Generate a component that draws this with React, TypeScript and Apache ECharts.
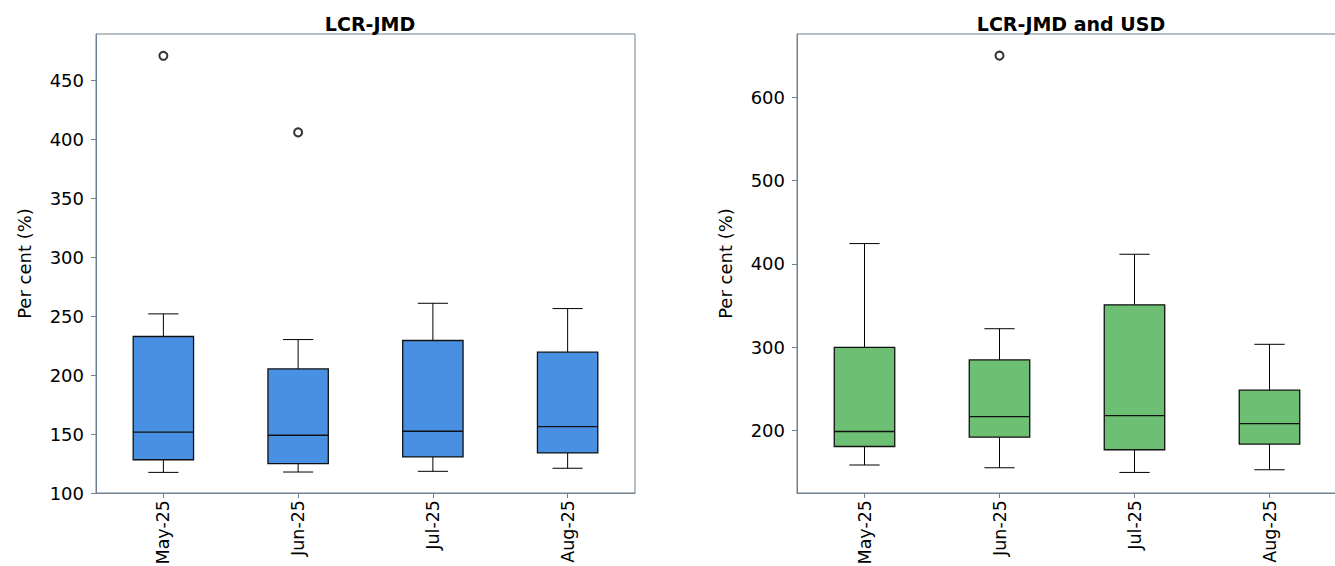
import React, { useEffect, useRef } from "react";
import * as echarts from "echarts";

const categories = ["May-25", "Jun-25", "Jul-25", "Aug-25"];

// [low whisker, Q1, median, Q3, high whisker]
const jmdBoxes = [
  [117.5, 128.2, 151.7, 232.8, 252.0],
  [117.8, 124.9, 149.0, 205.3, 230.2],
  [118.4, 130.6, 152.4, 229.4, 261.0],
  [121.0, 134.0, 156.3, 219.5, 256.5],
];
const jmdOutliers = [
  [0, 471],
  [1, 406],
];

const usdBoxes = [
  [158.6, 180.8, 198.8, 299.9, 424.4],
  [155.3, 192.0, 216.8, 284.7, 322.2],
  [149.7, 176.9, 218.0, 350.9, 411.6],
  [152.9, 183.7, 208.4, 248.4, 303.5],
];
const usdOutliers = [[1, 650]];

const leftTicks = [100, 150, 200, 250, 300, 350, 400, 450];
const rightTicks = [200, 300, 400, 500, 600];

const titles = ["LCR-JMD", "LCR-JMD and USD"];
const yName = "Per cent (%)";

const FONT = "DejaVu Sans";
const SPINE = "#708090";

function boxRender(fill: string) {
  return (params: any, api: any) => {
    const x = api.value(0);
    const low = api.coord([x, api.value(1)]);
    const q1 = api.coord([x, api.value(2)]);
    const med = api.coord([x, api.value(3)]);
    const q3 = api.coord([x, api.value(4)]);
    const high = api.coord([x, api.value(5)]);
    const band = api.size([1, 0])[0];
    const bw = band * 0.448;
    const cw = bw / 2;
    const cx = low[0];
    const ls = { stroke: "#000", lineWidth: 1 };
    return {
      type: "group",
      children: [
        { type: "line", shape: { x1: cx, y1: low[1], x2: cx, y2: q1[1] }, style: ls },
        { type: "line", shape: { x1: cx, y1: q3[1], x2: cx, y2: high[1] }, style: ls },
        { type: "line", shape: { x1: cx - cw / 2, y1: low[1], x2: cx + cw / 2, y2: low[1] }, style: ls },
        { type: "line", shape: { x1: cx - cw / 2, y1: high[1], x2: cx + cw / 2, y2: high[1] }, style: ls },
        {
          type: "rect",
          shape: { x: cx - bw / 2, y: q3[1], width: bw, height: q1[1] - q3[1] },
          style: { fill, stroke: "#111", lineWidth: 1.3 },
        },
        { type: "line", shape: { x1: cx - bw / 2, y1: med[1], x2: cx + bw / 2, y2: med[1] }, style: { stroke: "#111", lineWidth: 1.3 } },
      ],
    };
  };
}

export default function App() {
  const ref = useRef<HTMLDivElement>(null);
  useEffect(() => {
    if (!ref.current) return;
    const chart = echarts.init(ref.current, null, { renderer: "svg" });
    const xAxisBase = (gridIndex: number) => ({
      type: "category",
      gridIndex,
      data: categories,
      axisLine: { show: true, lineStyle: { color: SPINE, width: 1 } },
      axisTick: { show: true, alignWithLabel: true, length: 5, lineStyle: { color: SPINE } },
      axisLabel: { rotate: 90, fontSize: 17.5, fontFamily: FONT, color: "#000", margin: 7 },
      splitLine: { show: false },
    });
    const yAxisBase = (gridIndex: number, min: number, max: number, ticks: number[]) => ({
      type: "value",
      gridIndex,
      min,
      max,
      name: yName,
      nameLocation: "middle",
      nameGap: 63,
      nameTextStyle: { fontSize: 18, fontFamily: FONT, color: "#000" },
      axisLine: { show: true, lineStyle: { color: SPINE, width: 1 } },
      axisTick: { show: true, length: 5, lineStyle: { color: SPINE }, customValues: ticks },
      axisLabel: { fontSize: 18, fontFamily: FONT, color: "#000", margin: 12, customValues: ticks },
      splitLine: { show: false },
    });
    const toData = (boxes: number[][]) => boxes.map((b, i) => [i, ...b]);
    const titleStyle = { fontSize: 19, fontWeight: "bold", fontFamily: FONT, color: "#000" };
    chart.setOption({
      animation: false,
      backgroundColor: "#fff",
      title: [
        { text: titles[0], left: 365, top: 9, textAlign: "center", textStyle: titleStyle },
        { text: titles[1], left: 1066, top: 9, textAlign: "center", textStyle: titleStyle },
      ],
      grid: [
        { left: 96, top: 34, width: 539, height: 459, outerBoundsMode: "none", containLabel: false, show: true, borderColor: SPINE, borderWidth: 1, backgroundColor: "transparent" },
        { left: 797, top: 34, width: 540, height: 459, outerBoundsMode: "none", containLabel: false, show: true, borderColor: SPINE, borderWidth: 1, backgroundColor: "transparent" },
      ],
      xAxis: [xAxisBase(0), xAxisBase(1)],
      yAxis: [yAxisBase(0, 100, 489.5, leftTicks), yAxisBase(1, 125, 676, rightTicks)],
      series: [
        {
          type: "custom",
          xAxisIndex: 0,
          yAxisIndex: 0,
          renderItem: boxRender("#4A90E2"),
          encode: { x: 0, y: [1, 2, 3, 4, 5] },
          data: toData(jmdBoxes),
        },
        {
          type: "scatter",
          xAxisIndex: 0,
          yAxisIndex: 0,
          symbol: "emptyCircle",
          symbolSize: 8,
          itemStyle: { color: "#000", borderWidth: 0.9 },
          data: jmdOutliers,
        },
        {
          type: "custom",
          xAxisIndex: 1,
          yAxisIndex: 1,
          renderItem: boxRender("#6CBF73"),
          encode: { x: 0, y: [1, 2, 3, 4, 5] },
          data: toData(usdBoxes),
        },
        {
          type: "scatter",
          xAxisIndex: 1,
          yAxisIndex: 1,
          symbol: "emptyCircle",
          symbolSize: 8,
          itemStyle: { color: "#000", borderWidth: 0.9 },
          data: usdOutliers,
        },
      ],
    });
    return () => chart.dispose();
  }, []);
  return <div ref={ref} style={{ position: "fixed", left: 0, top: 0, width: 1335, height: 566 }} />;
}
